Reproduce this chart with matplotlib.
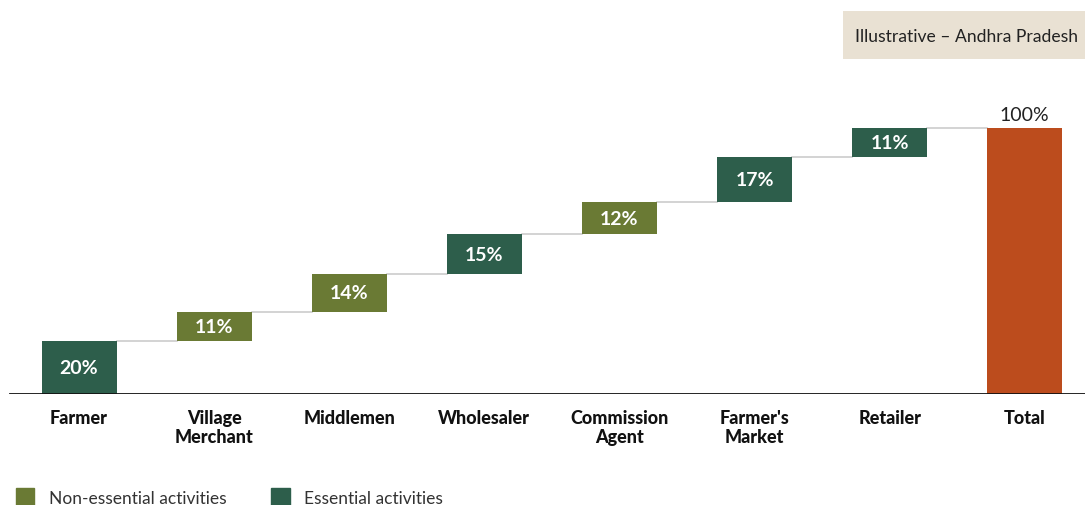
import numpy as np
import matplotlib.pyplot as plt
from matplotlib.patches import Patch, Rectangle

# value chain share at each step (percent of final price)
stages = ["Farmer", "Village\nMerchant", "Middlemen", "Wholesaler",
          "Commission\nAgent", "Farmer's\nMarket", "Retailer", "Total"]
shares = [20, 11, 14, 15, 12, 17, 11]
essential = [True, False, False, True, False, True, True]

DARK_GREEN = "#2d5e4b"
OLIVE = "#6a7a34"
ORANGE = "#bc4c1d"
BEIGE = "#e9e1d3"

plt.rcParams['font.family'] = ['Lato', 'DejaVu Sans']

fig = plt.figure(figsize=(10.85, 5.06), dpi=100)
ax = fig.add_axes([0, 111 / 506, 1, 395 / 506])

W = 0.555
bottoms = np.concatenate([[0], np.cumsum(shares)[:-1]])
tops = bottoms + np.array(shares)
total = sum(shares)

for i, (b, v, ess) in enumerate(zip(bottoms, shares, essential)):
    ax.bar(i, v, bottom=b, width=W, color=DARK_GREEN if ess else OLIVE)
    ax.text(i, b + v / 2, f"{v}%", ha='center', va='center', color='white',
            fontsize=14, fontweight='bold')

n = len(shares)
ax.bar(n, total, width=W, color=ORANGE)
ax.text(n, total + 1.8, f"{total}%", ha='center', va='bottom', color='#222222',
        fontsize=14)

# connectors between steps
for i in range(n):
    ax.plot([i + W / 2, i + 1 - W / 2], [tops[i], tops[i]], color='#cccccc',
            lw=1.2, zorder=0)

ax.set_xlim(-0.585, 7.446)
ax.set_ylim(0, 148.5)
ax.axhline(0, xmin=(-0.511 + 0.585) / (7.446 + 0.585), xmax=1, color='#111111',
           lw=2)
for s in ax.spines.values():
    s.set_visible(False)
ax.set_yticks([])
ax.set_xticks(range(len(stages)))
ax.set_xticklabels(stages, fontsize=13, fontweight='black', color='#111111',
                   linespacing=1.15)
ax.tick_params(axis='x', length=0, pad=11)

# note box in the top right corner, running off the edge
fig.patches.append(Rectangle((843 / 1085, 1 - 60 / 506), 250 / 1085, 48 / 506,
                             transform=fig.transFigure, fc=BEIGE, ec='none'))
fig.text(855 / 1085, 1 - 37 / 506, "Illustrative – Andhra Pradesh",
         ha='left', va='center', fontsize=12.6, color='#222222')

handles = [Patch(color=OLIVE, label="Non-essential activities"),
           Patch(color=DARK_GREEN, label="Essential activities")]
fig.legend(handles=handles, loc='lower left', bbox_to_anchor=(0.0, -0.035),
           ncol=2, frameon=False, fontsize=12.5, handlelength=1.05,
           handleheight=1.35, columnspacing=2.6, handletextpad=0.85,
           labelcolor='#333333')

fig.savefig("out.png", dpi=100)
